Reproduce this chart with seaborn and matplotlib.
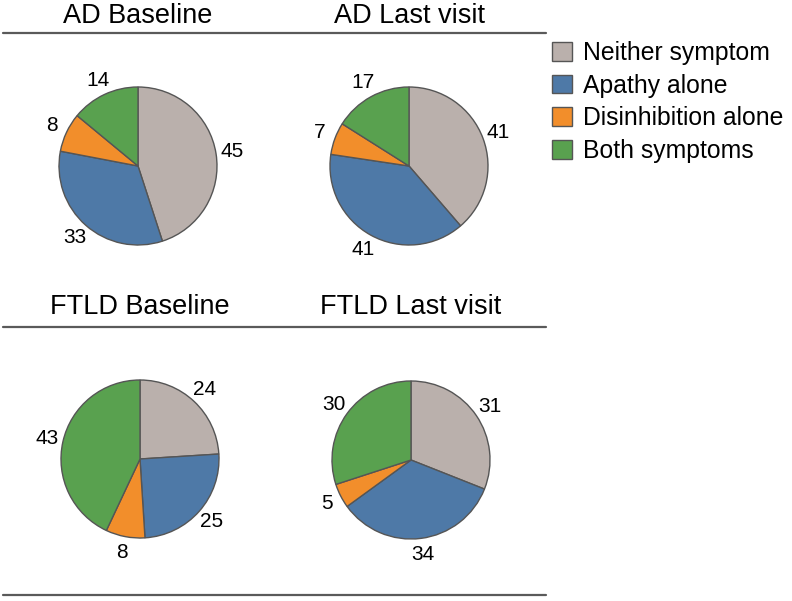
import matplotlib
matplotlib.use("Agg")
import matplotlib.pyplot as plt
import seaborn as sns
from matplotlib.lines import Line2D
from matplotlib.patches import Patch

# ---- data ----
categories = ["Neither symptom", "Apathy alone", "Disinhibition alone", "Both symptoms"]
ad_baseline = [45, 33, 8, 14]
ad_last = [41, 41, 7, 17]
ftld_baseline = [24, 25, 8, 43]
ftld_last = [31, 34, 5, 30]
titles = ["AD Baseline", "AD Last visit", "FTLD Baseline", "FTLD Last visit"]

sns.set_style("white")
plt.rcParams["font.family"] = ["Liberation Sans", "DejaVu Sans"]
plt.rcParams["text.color"] = "black"
colors = ["#BAB0AC", "#4E79A7", "#F28E2B", "#59A14F"]

W, H = 792, 601
fig = plt.figure(figsize=(W / 100, H / 100), dpi=100)

# pie centers (px) and radius
centers = [(138, 166), (409, 166), (140, 459), (411, 460)]
radius = 79
title_pos = [(138, 16), (409, 16), (140, 307), (411, 307)]
datasets = [ad_baseline, ad_last, ftld_baseline, ftld_last]

for (cx, cy), data, title, (tx, ty) in zip(centers, datasets, titles, title_pos):
    s = 1.4 * radius
    ax = fig.add_axes([(cx - s) / W, 1 - (cy + s) / H, 2 * s / W, 2 * s / H])
    wedges, texts = ax.pie(
        data, colors=colors, startangle=90, counterclock=False, radius=1,
        labels=[str(v) for v in data], labeldistance=1.2,
        wedgeprops=dict(edgecolor="#555555", linewidth=1),
        textprops=dict(fontsize=15, color="black"),
    )
    for t in texts:
        t.set_ha("center")
        t.set_va("center")
    ax.set_xlim(-1.4, 1.4)
    ax.set_ylim(-1.4, 1.4)
    ax.axis("off")
    fig.text(tx / W, 1 - ty / H, title, ha="center", va="center",
             fontsize=19.5, color="black")

# horizontal rules
for y in [33, 327, 595]:
    fig.add_artist(Line2D([3 / W, 546 / W], [1 - y / H, 1 - y / H],
                          color="#5a5a5a", linewidth=1.6))

handles = [Patch(facecolor=c, edgecolor="#555555", linewidth=1) for c in colors]
leg = fig.legend(handles, categories, loc="upper left",
                 bbox_to_anchor=(547 / W, 1 - 36 / H), frameon=False, fontsize=17.8,
                 handlelength=0.8, handleheight=0.8, handletextpad=0.45,
                 labelspacing=0.35, borderpad=0.2, borderaxespad=0)
for t in leg.get_texts():
    t.set_color("black")

fig.savefig("out.png", dpi=100)
